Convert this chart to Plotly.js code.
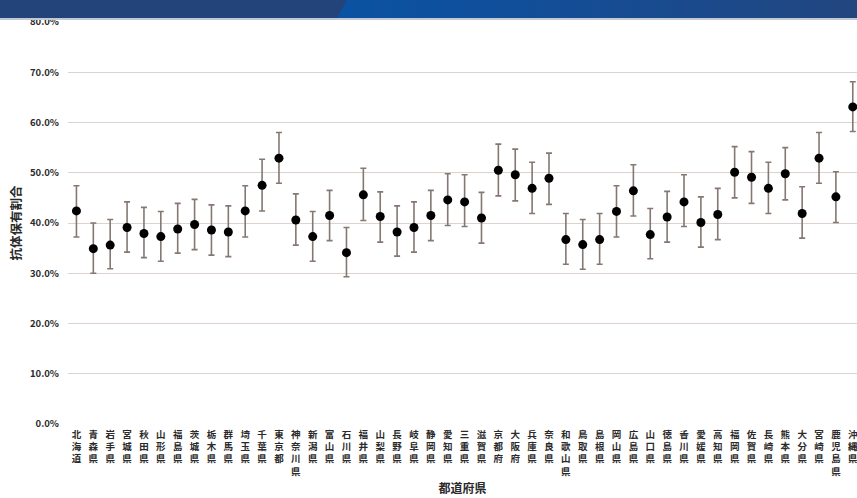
<!DOCTYPE html>
<html><head><meta charset="utf-8">
<script src="https://cdn.plot.ly/plotly-3.0.1.min.js"></script>
<style>
html,body{margin:0;padding:0;background:#fff;}
#wrap{position:relative;width:857px;height:498px;overflow:hidden;}
#chart{position:absolute;left:0;top:0;width:857px;height:498px;z-index:1;}
#banner{position:absolute;left:0;top:0;width:857px;height:20px;z-index:10;}
</style>
</head><body><div id="wrap"><div id="chart"></div>
<svg id="banner" width="857" height="20" xmlns="http://www.w3.org/2000/svg">
<defs><linearGradient id="g" x1="0" x2="1" y1="0" y2="0">
<stop offset="0" stop-color="#0a53a2"/><stop offset="0.3" stop-color="#104f9b"/><stop offset="0.7" stop-color="#1b4a8c"/><stop offset="1" stop-color="#22467f"/></linearGradient></defs>
<rect x="0" y="18" width="857" height="2" fill="#c3c9d3"/>
<rect x="0" y="0" width="857" height="18" fill="#23437b"/>
<polygon points="337,18 347,0 857,0 857,18" fill="url(#g)"/>
</svg></div>
<script>
const prefectures = ["北海道","青森県","岩手県","宮城県","秋田県","山形県","福島県","茨城県","栃木県","群馬県","埼玉県","千葉県","東京都","神奈川県","新潟県","富山県","石川県","福井県","山梨県","長野県","岐阜県","静岡県","愛知県","三重県","滋賀県","京都府","大阪府","兵庫県","奈良県","和歌山県","鳥取県","島根県","岡山県","広島県","山口県","徳島県","香川県","愛媛県","高知県","福岡県","佐賀県","長崎県","熊本県","大分県","宮崎県","鹿児島県","沖縄県"];
const rate = [42.4,34.9,35.6,39.1,37.9,37.3,38.8,39.7,38.6,38.2,42.4,47.5,52.9,40.6,37.3,41.5,34.1,45.6,41.3,38.2,39.1,41.5,44.6,44.2,41.0,50.5,49.6,46.9,48.9,36.7,35.7,36.7,42.3,46.4,37.7,41.2,44.2,40.1,41.7,50.1,49.1,46.9,49.8,41.9,52.9,45.2,63.1];
const upper = [47.4,40.0,40.7,44.2,43.1,42.3,43.9,44.7,43.6,43.4,47.4,52.7,58.0,45.8,42.3,46.5,39.1,50.9,46.2,43.4,44.2,46.5,49.8,49.6,46.1,55.7,54.7,52.1,53.9,41.9,40.7,41.9,47.4,51.6,42.9,46.3,49.6,45.2,46.9,55.2,54.2,52.1,55.0,47.2,58.0,50.2,68.1];
const lower = [37.2,30.0,30.9,34.2,33.1,32.4,34.0,34.7,33.6,33.3,37.2,42.4,47.9,35.6,32.4,36.5,29.3,40.5,36.2,33.4,34.2,36.5,39.5,39.3,36.0,45.4,44.4,41.9,43.7,31.8,30.8,31.8,37.2,41.4,32.9,36.2,39.3,35.2,36.7,45.0,43.9,41.9,44.6,37.0,47.9,40.1,58.2];
const yTicks = [0,10,20,30,40,50,60,70,80];

const plus = rate.map((v,i)=>+(upper[i]-v).toFixed(2));
const minus = rate.map((v,i)=>+(v-lower[i]).toFixed(2));
const vertLabels = prefectures.map(s => Array.from(s).join("<br>"));

const L=68, T=22, W=789, H=402;
const font = "'Noto Sans CJK JP','Noto Sans',sans-serif";
const trace = {
  type:"scatter", mode:"markers", x: prefectures, y: rate,
  marker:{color:"#000", size:9},
  error_y:{type:"data", symmetric:false, array:plus, arrayminus:minus, color:"#857872", thickness:1.6, width:3},
  hoverinfo:"x+y", showlegend:false
};
const layout = {
  width:857, height:498,
  margin:{l:L, r:857-L-W, t:T, b:498-T-H},
  paper_bgcolor:"rgba(0,0,0,0)", plot_bgcolor:"rgba(0,0,0,0)",
  xaxis:{
    type:"category", range:[-0.5, 46.25], tickvals:prefectures, ticktext:vertLabels,
    tickangle:0, showgrid:false, zeroline:false, showline:false, ticks:"",
    tickfont:{family:font, size:9.5, color:"#2a2a2a", weight:"bold"}, ticklabelstandoff:3,
    title:{text:"都道府県", font:{family:font, size:12, color:"#2a2a2a", weight:"bold"}, standoff:8}
  },
  yaxis:{
    range:[0,80], tickvals:yTicks, ticktext:yTicks.map(v=>v.toFixed(1)+"%"),
    showgrid:true, gridcolor:"#dcd2ce", gridwidth:1, zeroline:false, showline:false, ticks:"",
    tickfont:{family:font, size:9.5, color:"#2a2a2a", weight:"bold"}, ticklabelstandoff:8,
    title:{text:"抗体保有割合", font:{family:font, size:12.5, color:"#2a2a2a", weight:"bold"}, standoff:5}
  }
};
Plotly.newPlot("chart",[trace],layout,{displayModeBar:false, staticPlot:true});
</script></body></html>
